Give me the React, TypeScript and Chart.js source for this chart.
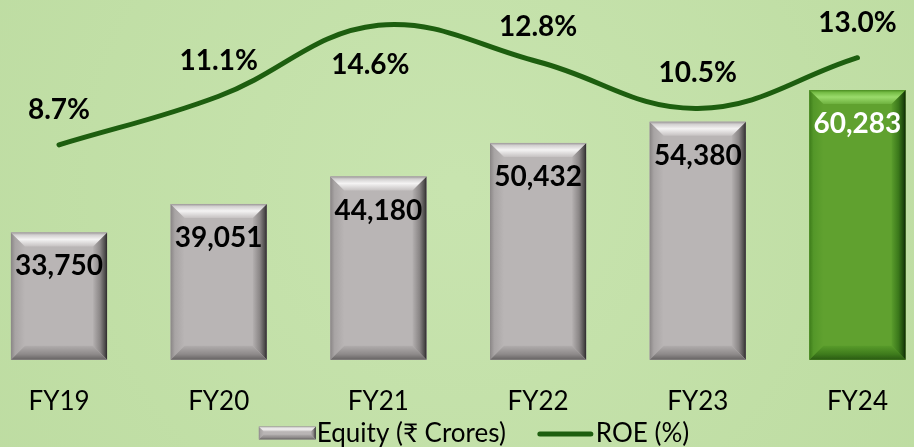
import React, { useEffect, useRef } from 'react';
import { Chart, registerables } from 'chart.js';

Chart.register(...registerables);

// ---- data ----
const categories = ['FY19', 'FY20', 'FY21', 'FY22', 'FY23', 'FY24'];
const equity = [33750, 39051, 44180, 50432, 54380, 60283];
const roe = [8.7, 11.1, 14.6, 12.8, 10.5, 13.0];
const seriesNames = ['Equity (₹ Crores)', 'ROE (%)'];
const highlightIndex = 5;
const equityAxisMin = 10000;
// label placement for the ROE series (style only)
const roePlacement = ['above', 'above', 'below', 'above', 'above', 'above'];

// ---- styles ----
const FONT = "Lato, 'Noto Sans', 'DejaVu Sans', sans-serif";
const LINE_COLOR = '#1d5e0f';

type Pal = {
  face: string;
  top: [number, string][];
  left: [number, string][];
  right: [number, string][];
  bottom: [number, string][];
};

const greyPal: Pal = {
  face: '#b9b5b5',
  top: [[0, '#9a9696'], [0.18, '#d2d0d0'], [0.5, '#f4f3f3'], [1, '#c6c2c2']],
  left: [[0, '#8a8686'], [0.3, '#a8a4a4'], [1, '#b9b5b5']],
  right: [[0, '#b4b0b0'], [0.5, '#8a8686'], [0.85, '#4e4c4c'], [1, '#2c2a2a']],
  bottom: [[0, '#b0acac'], [0.6, '#8e8a8a'], [1, '#666363']],
};

const greenPal: Pal = {
  face: '#60a12f',
  top: [[0, '#4b8d21'], [0.18, '#76bd46'], [0.5, '#9bdb6c'], [1, '#6eb13e']],
  left: [[0, '#3d7c1a'], [0.3, '#549729'], [1, '#60a12f']],
  right: [[0, '#5a9c2c'], [0.5, '#3b781b'], [0.85, '#1d470c'], [1, '#0e2406']],
  bottom: [[0, '#589b2a'], [0.6, '#3e7b1c'], [1, '#2a5a12']],
};

function grad(ctx: CanvasRenderingContext2D, x0: number, y0: number, x1: number, y1: number, stops: [number, string][]) {
  const g = ctx.createLinearGradient(x0, y0, x1, y1);
  stops.forEach(([o, c]) => g.addColorStop(o, c));
  return g;
}

function poly(ctx: CanvasRenderingContext2D, pts: number[][], fill: CanvasGradient | string) {
  ctx.beginPath();
  ctx.moveTo(pts[0][0], pts[0][1]);
  for (let i = 1; i < pts.length; i++) ctx.lineTo(pts[i][0], pts[i][1]);
  ctx.closePath();
  ctx.fillStyle = fill;
  ctx.fill();
}

function drawBevel(ctx: CanvasRenderingContext2D, L: number, T: number, R: number, B: number, bev: number, p: Pal) {
  const w = R - L;
  const h = B - T;
  if (w <= 0 || h <= 0) return;
  const b = Math.min(bev, w / 2, h / 2);
  ctx.save();
  ctx.fillStyle = p.face;
  ctx.fillRect(L, T, w, h);
  poly(ctx, [[L, T], [L + b, T + b], [L + b, B - b], [L, B]], grad(ctx, L, 0, L + b, 0, p.left));
  poly(ctx, [[R, T], [R - b, T + b], [R - b, B - b], [R, B]], grad(ctx, R - b, 0, R, 0, p.right));
  poly(ctx, [[L, B], [R, B], [R - b, B - b], [L + b, B - b]], grad(ctx, 0, B - b, 0, B, p.bottom));
  poly(ctx, [[L, T], [R, T], [R - b, T + b], [L + b, T + b]], grad(ctx, 0, T, 0, T + b, p.top));
  ctx.restore();
}

const backgroundPlugin = {
  id: 'bgFill',
  beforeDraw(chart: any) {
    const { ctx, width, height } = chart;
    ctx.save();
    const g = ctx.createRadialGradient(width / 2, height * 0.42, 10, width / 2, height * 0.42, width * 0.62);
    g.addColorStop(0, '#c8e4af');
    g.addColorStop(1, '#bddca1');
    ctx.fillStyle = g;
    ctx.fillRect(0, 0, width, height);
    ctx.restore();
  },
};

const bevelPlugin = {
  id: 'bevelBars',
  afterDatasetDraw(chart: any, args: any) {
    if (args.index !== 0) return;
    const meta = chart.getDatasetMeta(0);
    const ctx = chart.ctx;
    meta.data.forEach((el: any, i: number) => {
      const { x, y, base, width } = el.getProps(['x', 'y', 'base', 'width'], true);
      drawBevel(ctx, x - width / 2, y, x + width / 2, base, 14, i === highlightIndex ? greenPal : greyPal);
    });
  },
};

const labelsPlugin = {
  id: 'valueLabels',
  afterDatasetsDraw(chart: any) {
    const ctx = chart.ctx;
    const size = 28;
    ctx.save();
    ctx.font = `bold ${size}px ${FONT}`;
    ctx.textAlign = 'center';
    ctx.textBaseline = 'alphabetic';
    const capHalf = size * 0.36;
    const bars = chart.getDatasetMeta(0).data;
    bars.forEach((el: any, i: number) => {
      const { x, y } = el.getProps(['x', 'y'], true);
      ctx.fillStyle = i === highlightIndex ? '#ffffff' : '#000000';
      ctx.fillText(equity[i].toLocaleString('en-US'), x, y + 33 + capHalf);
    });
    const pts = chart.getDatasetMeta(1).data;
    pts.forEach((el: any, i: number) => {
      const { x, y } = el.getProps(['x', 'y'], true);
      ctx.fillStyle = '#000000';
      const below = roePlacement[i] === 'below';
      const cy = below ? y + 39 : y - 36;
      const cx = below ? x - 8 : x;
      ctx.fillText(roe[i].toFixed(1) + '%', cx, cy + capHalf);
    });
    ctx.restore();
  },
};

const legendPlugin = {
  id: 'customLegend',
  afterDraw(chart: any) {
    const ctx = chart.ctx;
    const fs = 26;
    ctx.save();
    ctx.font = `${fs}px ${FONT}`;
    const y = chart.height - 14;
    const sw = 57;
    const sh = 13;
    const w1 = ctx.measureText(seriesNames[0]).width;
    const w2 = ctx.measureText(seriesNames[1]).width;
    const total = sw + 1 + w1 + 31 + sw + 2 + w2;
    let x = chart.width / 2 + 17 - total / 2;
    drawBevel(ctx, x, y - sh / 2, x + sw, y + sh / 2, 5, greyPal);
    x += sw + 1;
    ctx.fillStyle = '#000';
    ctx.textBaseline = 'alphabetic';
    ctx.textAlign = 'left';
    const cap = fs * 0.36;
    ctx.fillText(seriesNames[0], x, y + cap);
    x += w1 + 31;
    ctx.strokeStyle = LINE_COLOR;
    ctx.lineWidth = 5;
    ctx.lineCap = 'round';
    ctx.beginPath();
    ctx.moveTo(x + 3, y + 1);
    ctx.lineTo(x + sw - 3, y + 1);
    ctx.stroke();
    x += sw + 2;
    ctx.fillText(seriesNames[1], x, y + cap);
    ctx.restore();
  },
};

export default function App() {
  const ref = useRef<HTMLCanvasElement | null>(null);

  useEffect(() => {
    if (!ref.current) return;
    Chart.defaults.font.family = FONT;
    const chart = new Chart(ref.current, {
      type: 'bar',
      data: {
        labels: categories,
        datasets: [
          {
            type: 'bar',
            label: seriesNames[0],
            data: equity,
            yAxisID: 'y',
            base: equityAxisMin,
            backgroundColor: equity.map((_, i) => (i === highlightIndex ? greenPal.face : greyPal.face)),
            borderWidth: 0,
            categoryPercentage: 1,
            barPercentage: 0.602,
            order: 2,
            clip: false as any,
          } as any,
          {
            type: 'line',
            label: seriesNames[1],
            data: roe,
            yAxisID: 'y1',
            borderColor: LINE_COLOR,
            backgroundColor: LINE_COLOR,
            borderWidth: 5,
            borderCapStyle: 'round',
            borderJoinStyle: 'round',
            tension: 0.4,
            pointRadius: 0,
            pointHoverRadius: 0,
            fill: false,
            order: 1,
            clip: false as any,
          } as any,
        ],
      },
      options: {
        animation: false,
        responsive: false,
        maintainAspectRatio: false,
        events: [],
        layout: { padding: { left: 59, right: 49, top: 20, bottom: 4 } },
        plugins: {
          legend: { display: false },
          tooltip: { enabled: false },
          title: { display: false },
        },
        scales: {
          x: {
            offset: false,
            grid: { display: false, drawTicks: false },
            border: { display: false },
            ticks: {
              color: '#000000',
              font: { size: 26, family: FONT },
              padding: 26,
              autoSkip: false,
              maxRotation: 0,
            },
          },
          y: {
            display: false,
            min: equityAxisMin,
            max: 73340,
          },
          y1: {
            display: false,
            position: 'right',
            min: -1.9,
            max: 14.86,
          },
        },
      },
      plugins: [backgroundPlugin, bevelPlugin, labelsPlugin, legendPlugin],
    });
    return () => chart.destroy();
  }, []);

  return (
    <div style={{ position: 'fixed', left: 0, top: 0, width: 914, height: 447 }}>
      <canvas ref={ref} width={914} height={447} style={{ display: 'block', width: 914, height: 447 }} />
    </div>
  );
}
